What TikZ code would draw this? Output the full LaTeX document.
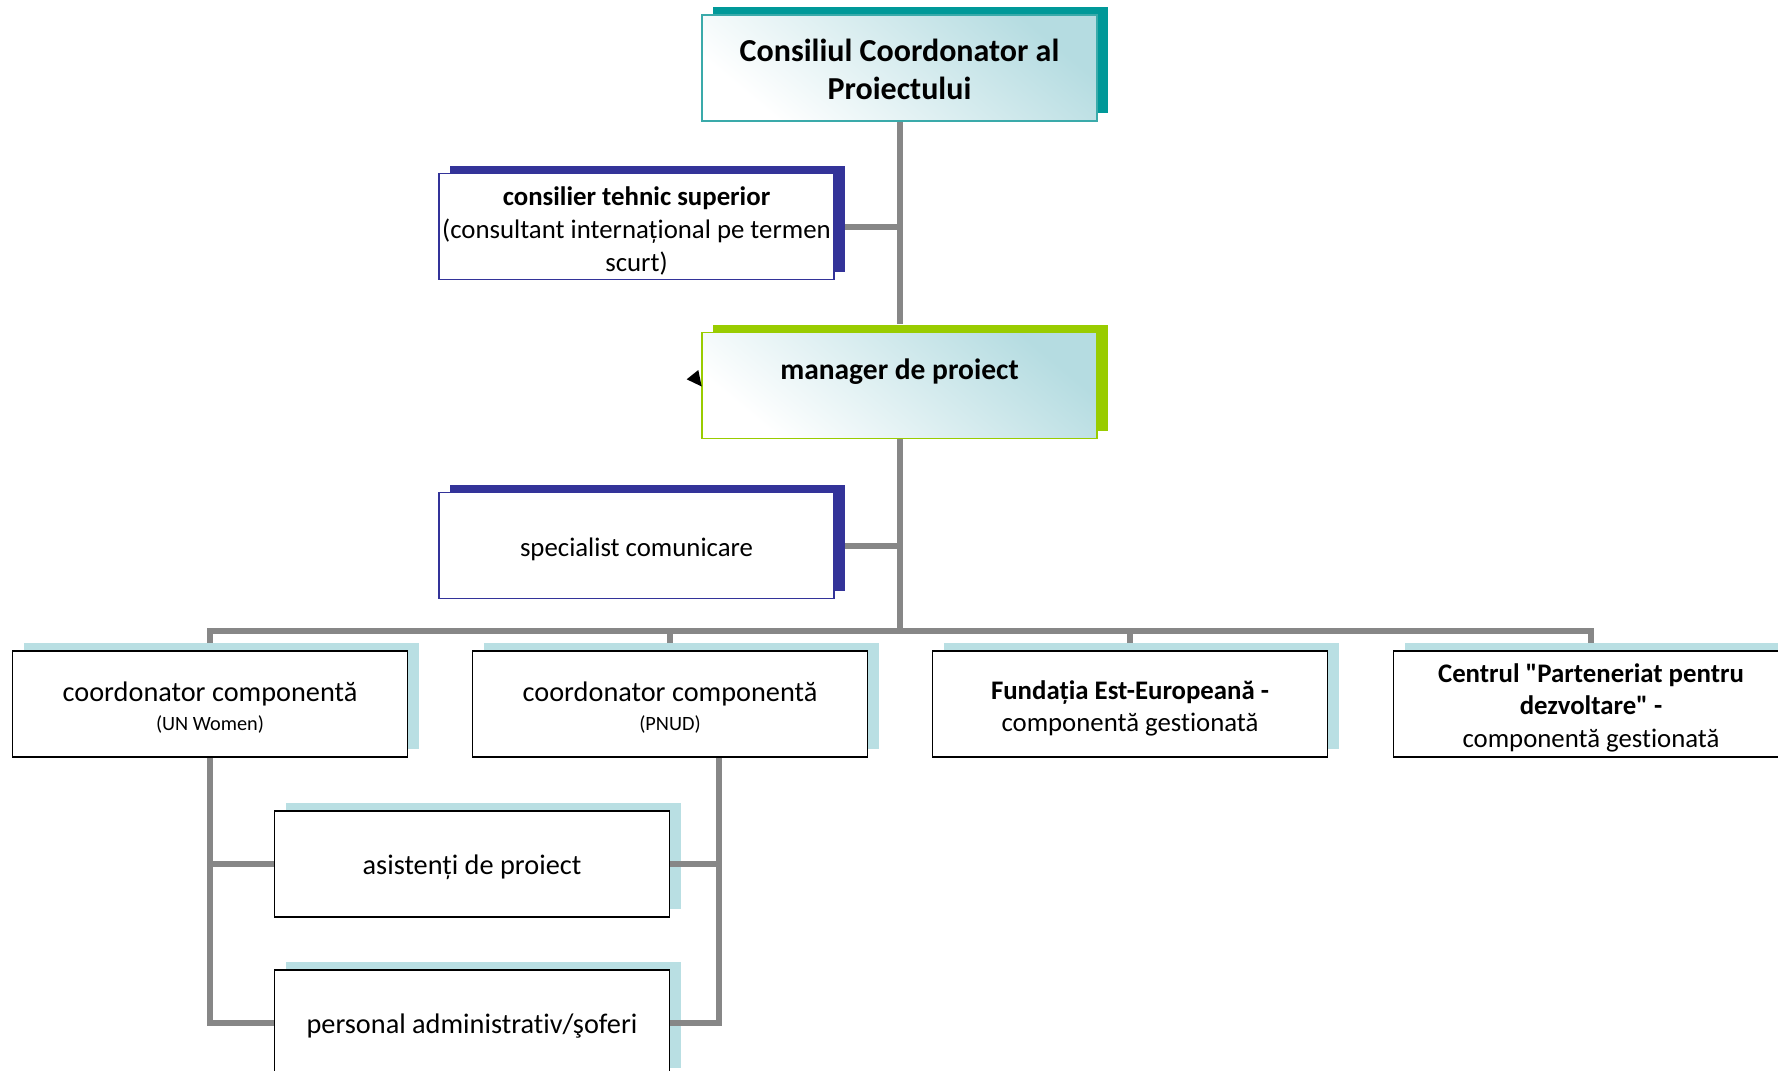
\documentclass[tikz,border=0pt]{standalone}
\usepackage{fontspec}
\setmainfont{Carlito}[Ligatures={TeX,NoCommon}]
\newfontfamily\qfont{Carlito}[Ligatures=NoCommon]
\definecolor{tealdark}{HTML}{009999}
\definecolor{tealline}{HTML}{3AAAAA}
\definecolor{navy}{HTML}{333399}
\definecolor{limeg}{HTML}{99CC00}
\definecolor{paleblue}{HTML}{B9DFE3}
\definecolor{gradblue}{HTML}{B5DCE1}
\definecolor{conngray}{HTML}{878787}
\pgfdeclarelayer{shadows}
\pgfdeclarelayer{lines}
\pgfsetlayers{shadows,lines,main}
\tikzset{
  basebox/.style={rectangle, minimum width=395pt, minimum height=106pt, inner sep=0pt},
  topbox/.style={basebox, draw=#1, line width=1.6pt, shading=axis, top color=gradblue, bottom color=white, shading angle=-40},
  navybox/.style={basebox, draw=navy, line width=1.6pt, fill=white},
  lowbox/.style={basebox, draw=black, line width=1.8pt, fill=white},
  shadowbox/.style={rectangle, minimum width=395pt, minimum height=106pt, inner sep=0pt, fill=#1},
  conn/.style={draw=conngray, line width=6pt},
  txt/.style={inner sep=0pt, align=center},
  navytext/.style={txt, font=\fontsize{26.8}{33}\selectfont},
  coordtext/.style={txt, font=\fontsize{28.3}{29.5}\selectfont},
  parttext/.style={txt, font=\fontsize{26.8}{32.5}\selectfont},
  stafftext/.style={txt, font=\fontsize{28.3}{33}\selectfont},
}
\newcommand{\smalltxt}[1]{{\fontsize{20.3}{24}\selectfont #1}}
\begin{document}
\begin{tikzpicture}[x=1pt,y=-1pt]
\useasboundingbox (0,0) rectangle (1778,1071);
\clip (0,0) rectangle (1778,1071);
% boxes
\node[topbox=tealline] (top) at (899.5,68) {};
\node[navybox] (cons) at (636.5,226.5) {};
\node[topbox=limeg] (mgr) at (899.5,385.5) {};
\node[navybox] (spec) at (636.5,545.5) {};
\node[lowbox] (c1) at (210,704) {};
\node[lowbox] (c2) at (670,704) {};
\node[lowbox] (c3) at (1130,704) {};
\node[lowbox] (c4) at (1591,704) {};
\node[lowbox] (asist) at (472,864) {};
\node[lowbox] (pers) at (472,1023) {};
% texts
\node[txt, font=\fontsize{32}{38.5}\selectfont\bfseries] (top-t) at ([yshift=-1.5pt]top.center) {Consiliul Coordonator al\\Proiectului};
\node[navytext] (cons-t) at ([yshift=-4.5pt]cons.center) {\textbf{consilier tehnic superior}\\(consultant internațional pe termen\\scurt)};
\node[txt, font=\fontsize{29.5}{35}\selectfont\bfseries] (mgr-t) at (899.5,371.5) {manager de proiect};
\node[navytext] (spec-t) at ([yshift=-3.4pt]spec.center) {specialist comunicare};
\node[coordtext] (c1-t) at ([yshift=-3.5pt]c1.center) {coordonator componentă\\\smalltxt{(UN Women)}};
\node[coordtext] (c2-t) at ([yshift=-3.5pt]c2.center) {coordonator componentă\\\smalltxt{(PNUD)}};
\node[parttext] (c3-t) at ([yshift=-4.3pt]c3.center) {\textbf{Fundația Est-Europeană -}\\componentă gestionată};
\node[parttext] (c4-t) at ([yshift=-3.8pt]c4.center) {\textbf{Centrul {\qfont"}Parteneriat pentru}\\\textbf{dezvoltare{\qfont"} -}\\componentă gestionată};
\node[stafftext] (asist-t) at ([yshift=-3pt]asist.center) {asistenți de proiect};
\node[stafftext] (pers-t) at ([yshift=-3.4pt]pers.center) {personal administrativ/şoferi};
\fill (686.7,379.3) -- (698.3,370) -- (701.7,386.5) -- cycle;
% shadows
\begin{pgfonlayer}{shadows}
\node[shadowbox=tealdark] (s-top) at ([shift={(11,-8)}]top.center) {};
\node[shadowbox=navy] (s-cons) at ([shift={(11,-8)}]cons.center) {};
\node[shadowbox=limeg] (s-mgr) at ([shift={(11,-8)}]mgr.center) {};
\node[shadowbox=navy] (s-spec) at ([shift={(11,-8)}]spec.center) {};
\node[shadowbox=paleblue] (s-c1) at ([shift={(11,-8)}]c1.center) {};
\node[shadowbox=paleblue] (s-c2) at ([shift={(11,-8)}]c2.center) {};
\node[shadowbox=paleblue] (s-c3) at ([shift={(11,-8)}]c3.center) {};
\node[shadowbox=paleblue] (s-c4) at ([shift={(11,-8)}]c4.center) {};
\node[shadowbox=paleblue] (s-asist) at ([shift={(11,-8)}]asist.center) {};
\node[shadowbox=paleblue] (s-pers) at ([shift={(11,-8)}]pers.center) {};
\end{pgfonlayer}
% connectors
\coordinate (bus) at (900,631);
\coordinate (c2r) at ([xshift=49pt]c2.south);
\begin{pgfonlayer}{lines}
\draw[conn] (top.south) -- (top.south |- s-mgr.north);
\draw[conn] (cons.east -| s-cons.east) -- (cons.east -| top.south);
\draw[conn] (spec.east -| s-spec.east) -- (spec.east -| mgr.south);
\draw[conn] (mgr.south) -- (mgr.south |- bus);
\draw[conn] (c1.north |- s-c1.north) -- (c1.north |- bus) -- (c4.north |- bus) -- (c4.north |- s-c4.north);
\draw[conn] (c2.north |- bus) -- (c2.north |- s-c2.north);
\draw[conn] (c3.north |- bus) -- (c3.north |- s-c3.north);
\draw[conn] (c1.south) -- (c1.south |- pers.west) -- (pers.west);
\draw[conn] (c1.south |- asist.west) -- (asist.west);
\draw[conn] (c2r) -- (c2r |- pers.east) -- (pers.east);
\draw[conn] (asist.east) -- (asist.east -| c2r);
\end{pgfonlayer}
\end{tikzpicture}
\end{document}
